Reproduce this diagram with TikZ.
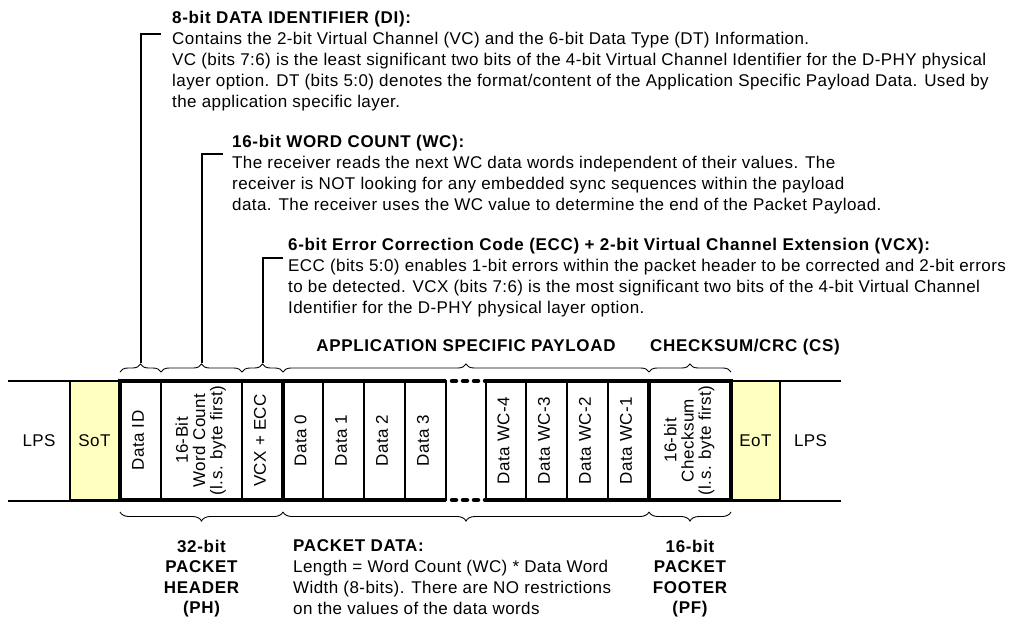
\documentclass[tikz,border=0pt]{standalone}
\usepackage{fontspec}
\setmainfont{Liberation Sans}[LetterSpace=2.5,BoldFeatures={LetterSpace=4}]
\usetikzlibrary{decorations.pathreplacing,calc}
\definecolor{sotfill}{RGB}{255,255,192}

\begin{document}
\begin{tikzpicture}[x=1pt,y=-1pt,
  font=\fontsize{17}{21}\selectfont,
  cell/.style={draw, line width=1.3pt, inner sep=0pt, outer sep=0pt,
    minimum height=119pt, anchor=north west, font=\fontsize{17}{16.5}\selectfont},
  lpscell/.style={inner sep=0pt, outer sep=0pt, minimum height=119pt, anchor=north west},
  frame/.style={line width=4.5pt},
  thinline/.style={line width=1.5pt},
  hook/.style={line width=2pt},
  bracetop/.style={decorate, decoration={brace, amplitude=8pt}, line width=0.9pt},
  bracebot/.style={decorate, decoration={brace, amplitude=9pt, mirror}, line width=0.9pt},
  note/.style={anchor=north west, align=left, inner sep=0pt},
  heading/.style={inner sep=0pt, font=\fontsize{17}{21}\selectfont\bfseries},
  foot/.style={anchor=north, align=center, inner sep=0pt, font=\fontsize{17}{20.5}\selectfont\bfseries},
]
\useasboundingbox (0,0) rectangle (1019,626);

\newcommand{\rot}[1]{\rotatebox{90}{\begin{tabular}{@{}c@{}}#1\end{tabular}}}

% line state outside the packet
\draw[thinline] (8,381) -- (121,381);
\draw[thinline] (8,501) -- (121,501);
\draw[thinline] (729,381) -- (841,381);
\draw[thinline] (729,501) -- (841,501);

\node[lpscell, minimum width=62pt] (lpsl) at (8,381) {LPS};
\node[cell, fill=sotfill, minimum width=49pt] (sot) at (70,381) {SoT};

% packet header
\node[cell, minimum width=41pt] (di)  at (120,381) {\rot{Data ID}};
\node[cell, minimum width=81pt] (wc)  at (161,381) {\rot{16-Bit\\Word Count\\(l.s. byte first)}};
\node[cell, minimum width=41pt] (vcx) at (242,381) {\rot{VCX + ECC}};

% payload
\node[cell, minimum width=40pt] (d0) at (283,381) {\rot{Data 0}};
\node[cell, minimum width=41pt] (d1) at (323,381) {\rot{Data 1}};
\node[cell, minimum width=41pt] (d2) at (364,381) {\rot{Data 2}};
\node[cell, minimum width=41pt] (d3) at (405,381) {\rot{Data 3}};
\node[lpscell, minimum width=41pt] (gap) at (446,381) {};
\node[cell, minimum width=40pt] (dw4) at (486,381) {\rot{Data WC-4}};
\node[cell, minimum width=41pt] (dw3) at (526,381) {\rot{Data WC-3}};
\node[cell, minimum width=41pt] (dw2) at (567,381) {\rot{Data WC-2}};
\node[cell, minimum width=41pt] (dw1) at (608,381) {\rot{Data WC-1}};

% footer
\node[cell, minimum width=82pt] (cs) at (649,381) {\rot{16-bit\\Checksum\\(l.s. byte first)}};
\node[cell, fill=sotfill, minimum width=49pt] (eot) at (731,381) {EoT};
\node[lpscell, minimum width=61pt] (lpsr) at (780,381) {LPS};

% heavy packet outline, broken where the payload is elided
\draw[frame] (gap.north west) -- (di.north west) -- (di.south west) -- (gap.south west);
\draw[frame] (gap.north east) -- (cs.north east) -- (cs.south east) -- (gap.south east);
\draw[frame] (vcx.north east) -- (vcx.south east);
\draw[frame] (dw1.north east) -- (dw1.south east);
\draw[line width=4.5pt, line cap=round, dash pattern=on 4pt off 7pt]
  ($(gap.north west)+(6,0)$) -- (gap.north east);
\draw[line width=4.5pt, line cap=round, dash pattern=on 4pt off 7pt]
  ($(gap.south west)+(6,0)$) -- (gap.south east);

% braces above the fields
\draw[bracetop] ($(di.north west)+(0,-9)$) -- ($(di.north east)+(0,-9)$) coordinate[midway] (dibr);
\draw[bracetop] ($(wc.north west)+(0,-9)$) -- ($(wc.north east)+(0,-9)$) coordinate[midway] (wcbr);
\draw[bracetop] ($(vcx.north west)+(0,-9)$) -- ($(vcx.north east)+(0,-9)$) coordinate[midway] (vcxbr);
\draw[bracetop] ($(d0.north west)+(0,-9)$) -- ($(dw1.north east)+(0,-9)$);
\draw[bracetop] ($(cs.north west)+(0,-9)$) -- ($(cs.north east)+(0,-9)$);

\coordinate (ditip) at ($(dibr)+(0,-9)$);
\coordinate (wctip) at ($(wcbr)+(0,-9)$);
\coordinate (vcxtip) at ($(vcxbr)+(0,-9)$);

% field descriptions
\node[note] (dinote) at (172,11.2) {\textbf{8-bit DATA IDENTIFIER (DI):}\\
Contains the 2-bit Virtual Channel (VC) and the 6-bit Data Type (DT) Information.\\
VC (bits 7:6) is the least significant two bits of the 4-bit Virtual Channel Identifier for the D-PHY physical\\
layer option. DT (bits 5:0) denotes the format/content of the Application Specific Payload Data. Used by\\
the application specific layer.};

\node[note] (wcnote) at (232,135.2) {\textbf{16-bit WORD COUNT (WC):}\\
The receiver reads the next WC data words independent of their values. The\\
receiver is NOT looking for any embedded sync sequences within the payload\\
data. The receiver uses the WC value to determine the end of the Packet Payload.};

\node[note] (vcxnote) at (288,238.2) {\textbf{6-bit Error Correction Code (ECC) + 2-bit Virtual Channel Extension (VCX):}\\
ECC (bits 5:0) enables 1-bit errors within the packet header to be corrected and 2-bit errors\\
to be detected. VCX (bits 7:6) is the most significant two bits of the 4-bit Virtual Channel\\
Identifier for the D-PHY physical layer option.};

\coordinate (dihook) at (161,34);
\coordinate (wchook) at (223,154);
\coordinate (vcxhook) at (283,258);
\draw[hook] (ditip) |- (dihook);
\draw[hook] (wctip) |- (wchook);
\draw[hook] (vcxtip) |- (vcxhook);

\node[heading, anchor=base] (asp) at (466,351) {APPLICATION SPECIFIC PAYLOAD};
\node[heading, anchor=base west] (csl) at (650,351) {CHECKSUM/CRC (CS)};

% braces below the packet
\draw[bracebot] ($(di.south west)+(0,12)$) -- ($(vcx.south east)+(0,12)$) coordinate[midway] (phbr);
\draw[bracebot] ($(d0.south west)+(0,12)$) -- ($(dw1.south east)+(0,12)$);
\draw[bracebot] ($(cs.south west)+(0,12)$) -- ($(cs.south east)+(0,12)$) coordinate[midway] (pfbr);

\node[foot] (ph) at (201.5,539.5) {32-bit\\PACKET\\HEADER\\(PH)};
\node[note] (pd) at (293,539.5) {\textbf{PACKET DATA:}\\
Length = Word Count (WC) * Data Word\\
Width (8-bits). There are NO restrictions\\
on the values of the data words};
\node[foot] (pf) at (690,539.5) {16-bit\\PACKET\\FOOTER\\(PF)};
\end{tikzpicture}
\end{document}
